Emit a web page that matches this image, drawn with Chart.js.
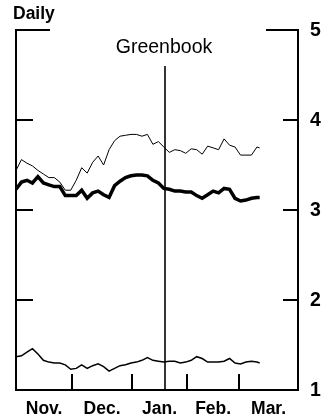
<!DOCTYPE html>
<html>
<head>
<meta charset="utf-8">
<script src="https://cdn.jsdelivr.net/npm/chart.js@4.4.1/dist/chart.umd.min.js"></script>
<style>
  html, body { margin: 0; padding: 0; background: #fff; }
  canvas { display: block; }
</style>
</head>
<body>
<canvas id="chart" width="327" height="419"></canvas>
<script>
// x = trading days since Nov. 1
const days = [0, 2, 4, 6, 8, 10, 12, 14, 16, 18, 20, 22, 24, 26, 28, 30, 32, 34, 36, 38,
  40, 42, 44, 46, 48, 50, 52, 54, 56, 58, 60, 62, 64, 66, 68, 70, 72, 74, 76, 78,
  80, 82, 84, 86, 88, 89];

const upperThin = [3.44, 3.56, 3.52, 3.49, 3.44, 3.40, 3.36, 3.36, 3.31, 3.22,
  3.22, 3.33, 3.47, 3.41, 3.53, 3.60, 3.50, 3.67, 3.77, 3.82,
  3.83, 3.84, 3.84, 3.82, 3.84, 3.73, 3.76, 3.70, 3.64, 3.67,
  3.66, 3.63, 3.68, 3.67, 3.62, 3.71, 3.69, 3.67, 3.79, 3.72,
  3.70, 3.61, 3.61, 3.61, 3.70, 3.69];

const middleThick = [3.23, 3.31, 3.33, 3.30, 3.37, 3.30, 3.28, 3.26, 3.26, 3.16,
  3.16, 3.16, 3.22, 3.13, 3.19, 3.21, 3.17, 3.14, 3.27, 3.32,
  3.36, 3.38, 3.39, 3.39, 3.38, 3.33, 3.30, 3.24, 3.23, 3.21,
  3.21, 3.20, 3.20, 3.16, 3.13, 3.17, 3.21, 3.19, 3.24, 3.23,
  3.13, 3.10, 3.11, 3.13, 3.14, 3.14];

const lower = [1.37, 1.38, 1.42, 1.46, 1.40, 1.33, 1.31, 1.30, 1.30, 1.28,
  1.23, 1.24, 1.28, 1.24, 1.27, 1.29, 1.26, 1.21, 1.24, 1.27,
  1.28, 1.30, 1.31, 1.33, 1.36, 1.33, 1.32, 1.31, 1.32, 1.32,
  1.30, 1.31, 1.33, 1.37, 1.35, 1.31, 1.31, 1.31, 1.32, 1.35,
  1.30, 1.29, 1.31, 1.32, 1.31, 1.30];

const monthLabels = ['Nov.', 'Dec.', 'Jan.', 'Feb.', 'Mar.'];
const monthBounds = [0, 20.5, 42.4, 62.5, 81.5, 103];
const yTicks = [1, 2, 3, 4, 5];
const greenbookDay = 54.4;

function pts(vals) {
  return vals.map((v, i) => ({ x: days[i], y: v }));
}

// frame, ticks, labels and the Greenbook marker
const decor = {
  id: 'decor',
  afterDatasetsDraw(chart) {
    const ctx = chart.ctx;
    const a = chart.chartArea;
    const xs = chart.scales.x;
    const ys = chart.scales.y;
    ctx.save();
    ctx.strokeStyle = '#000';
    ctx.fillStyle = '#000';
    ctx.lineWidth = 2;
    ctx.lineCap = 'butt';

    ctx.beginPath();
    // left / right / bottom
    ctx.moveTo(a.left, a.top); ctx.lineTo(a.left, a.bottom);
    ctx.moveTo(a.right, a.top); ctx.lineTo(a.right, a.bottom);
    ctx.moveTo(a.left - 1, a.bottom); ctx.lineTo(a.right + 1, a.bottom);
    // broken top border
    ctx.moveTo(a.left - 1, a.top); ctx.lineTo(a.left + 34, a.top);
    ctx.moveTo(a.right - 32, a.top); ctx.lineTo(a.right + 1, a.top);
    // y ticks, inward on both sides
    yTicks.slice(1, -1).forEach(v => {
      const y = ys.getPixelForValue(v);
      ctx.moveTo(a.left, y); ctx.lineTo(a.left + 17, y);
      ctx.moveTo(a.right - 15, y); ctx.lineTo(a.right, y);
    });
    // month ticks
    monthBounds.slice(1, -1).forEach(d => {
      const x = Math.round(xs.getPixelForValue(d));
      ctx.moveTo(x, a.bottom); ctx.lineTo(x, a.bottom - 16);
    });
    ctx.stroke();

    // Greenbook line
    const gx = Math.round(xs.getPixelForValue(greenbookDay));
    ctx.lineWidth = 1.6;
    ctx.beginPath();
    ctx.moveTo(gx, 66); ctx.lineTo(gx, a.bottom);
    ctx.stroke();

    // texts
    ctx.textBaseline = 'alphabetic';
    ctx.textAlign = 'center';
    ctx.font = '19.5px "Liberation Sans", Arial, sans-serif';
    ctx.fillText('Greenbook', 164, 53);

    ctx.font = 'bold 17.5px "Liberation Sans", Arial, sans-serif';
    for (let i = 0; i < monthLabels.length; i++) {
      const mid = (monthBounds[i] + monthBounds[i + 1]) / 2;
      ctx.fillText(monthLabels[i], xs.getPixelForValue(mid), 414);
    }

    ctx.textAlign = 'left';
    ctx.font = 'bold 17.5px "Liberation Sans", Arial, sans-serif';
    ctx.fillText('Daily', 13, 19);

    ctx.textBaseline = 'middle';
    ctx.font = 'bold 19.5px "Liberation Sans", Arial, sans-serif';
    yTicks.forEach(v => {
      ctx.fillText(String(v), a.right + 12, ys.getPixelForValue(v) + 1);
    });
    ctx.restore();
  }
};

new Chart(document.getElementById('chart'), {
  type: 'line',
  data: {
    datasets: [
      { data: pts(upperThin), borderColor: '#000', borderWidth: 1, pointRadius: 0, tension: 0 },
      { data: pts(middleThick), borderColor: '#000', borderWidth: 3.5, pointRadius: 0, tension: 0 },
      { data: pts(lower), borderColor: '#000', borderWidth: 1.5, pointRadius: 0, tension: 0 }
    ]
  },
  options: {
    responsive: false,
    animation: false,
    layout: { padding: { left: 16, right: 29, top: 30, bottom: 29 } },
    plugins: { legend: { display: false }, tooltip: { enabled: false } },
    scales: {
      x: { type: 'linear', display: false, min: monthBounds[0], max: monthBounds[monthBounds.length - 1] },
      y: { type: 'linear', display: false, min: 1, max: 5 }
    }
  },
  plugins: [decor]
});
</script>
</body>
</html>
